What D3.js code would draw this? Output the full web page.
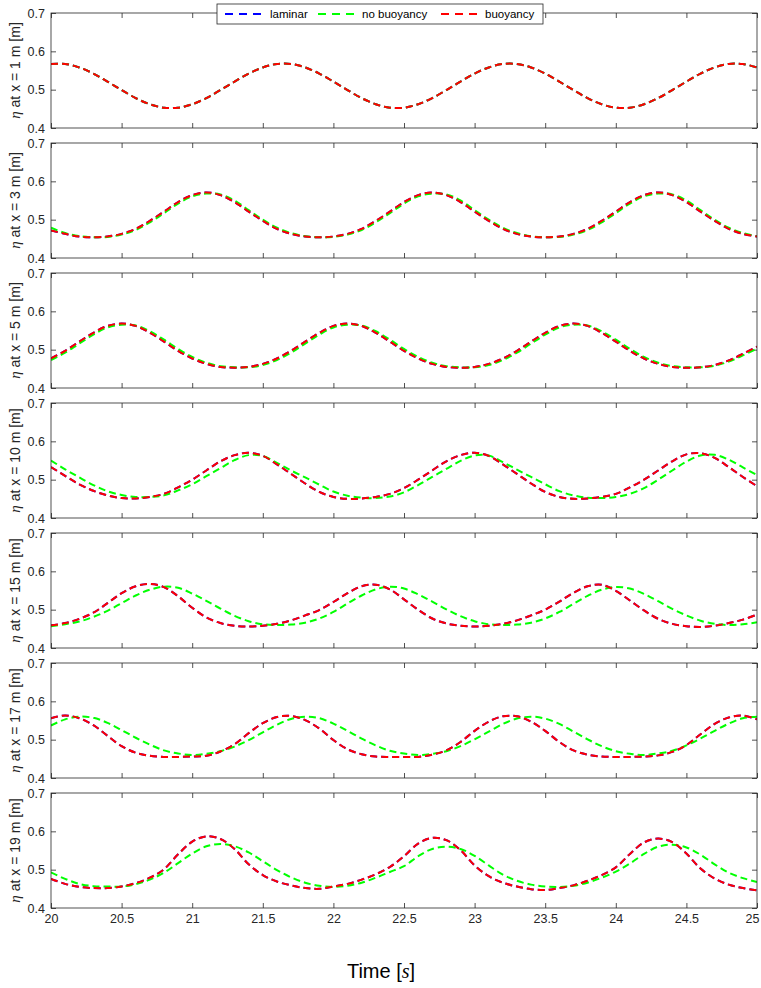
<!DOCTYPE html>
<html><head><meta charset="utf-8">
<script src="https://cdn.jsdelivr.net/npm/d3@7/dist/d3.min.js"></script>
<style>body{margin:0;background:#fff;} svg{display:block;}</style>
</head><body><svg id="c" width="761" height="988"></svg>
<script>
// ---------- data ----------
const time = [20.0,20.1,20.2,20.3,20.4,20.5,20.6,20.7,20.8,20.9,
  21.0,21.1,21.2,21.3,21.4,21.5,21.6,21.7,21.8,21.9,
  22.0,22.1,22.2,22.3,22.4,22.5,22.6,22.7,22.8,22.9,
  23.0,23.1,23.2,23.3,23.4,23.5,23.6,23.7,23.8,23.9,
  24.0,24.1,24.2,24.3,24.4,24.5,24.6,24.7,24.8,24.9,25.0];
const xTicks = [20,20.5,21,21.5,22,22.5,23,23.5,24,24.5,25];
const yTicks = [0.4,0.5,0.6,0.7];
const locations = [1,3,5,10,15,17,19];
const seriesNames = ["laminar","no buoyancy","buoyancy"];
const seriesColors = ["#0000ff","#00ff00","#ff0000"];

// x = 1 m
const laminar_x1 = [.567,.567,.558,.542,.521,.499,.478,.462,.453,.453,.462,.478,.499,.521,.542,.558,
 .567,.567,.558,.542,.521,.499,.478,.462,.453,.453,.462,.478,.499,.521,.542,.558,
 .567,.567,.558,.542,.521,.499,.478,.462,.453,.453,.462,.478,.499,.521,.542,.558,.567,.567,.558];
const noBuoyancy_x1 = [.567,.567,.558,.542,.521,.499,.478,.462,.453,.453,.462,.478,.499,.521,.542,.558,
 .567,.567,.558,.542,.521,.499,.478,.462,.453,.453,.462,.478,.499,.521,.542,.558,
 .567,.567,.558,.542,.521,.499,.478,.462,.453,.453,.462,.478,.499,.521,.542,.558,.567,.567,.558];
const buoyancy_x1 = [.567,.567,.558,.542,.521,.499,.478,.462,.453,.453,.462,.478,.499,.521,.542,.558,
 .567,.567,.558,.542,.521,.499,.478,.462,.453,.453,.462,.478,.499,.521,.542,.558,
 .567,.567,.558,.542,.521,.499,.478,.462,.453,.453,.462,.478,.499,.521,.542,.558,.567,.567,.558];

// x = 3 m
const laminar_x3 = [.472,.463,.456,.454,.456,.463,.476,.497,.521,.546,.564,
 .571,.564,.546,.521,.497,.476,.463,.456,.454,.456,.463,.476,.497,.521,.546,.564,
 .571,.564,.546,.521,.497,.476,.463,.456,.454,.456,.463,.476,.497,.521,.546,.564,
 .571,.564,.546,.521,.497,.476,.463,.456];
const noBuoyancy_x3 = [.479,.465,.457,.454,.455,.461,.473,.493,.517,.542,.561,
 .568,.566,.550,.525,.500,.479,.465,.457,.454,.455,.461,.473,.493,.517,.542,.561,
 .568,.566,.550,.525,.500,.479,.465,.457,.454,.455,.461,.473,.493,.517,.542,.561,
 .568,.566,.550,.525,.500,.479,.465,.457];
const buoyancy_x3 = [.472,.463,.456,.454,.456,.463,.476,.497,.521,.546,.564,
 .571,.564,.546,.521,.497,.476,.463,.456,.454,.456,.463,.476,.497,.521,.546,.564,
 .571,.564,.546,.521,.497,.476,.463,.456,.454,.456,.463,.476,.497,.521,.546,.564,
 .571,.564,.546,.521,.497,.476,.463,.456];

// x = 5 m
const laminar_x5 = [.477,.497,.521,.544,.562,
 .568,.562,.544,.521,.497,.477,.463,.455,.453,.455,.463,.477,.497,.521,.544,.562,
 .568,.562,.544,.521,.497,.477,.463,.455,.453,.455,.463,.477,.497,.521,.544,.562,
 .568,.562,.544,.521,.497,.477,.463,.455,.453,.454,.460,.472,.489,.508];
const noBuoyancy_x5 = [.473,.492,.516,.539,.558,
 .565,.563,.548,.526,.502,.481,.466,.457,.454,.454,.460,.473,.492,.516,.539,.558,
 .565,.563,.548,.526,.502,.481,.466,.457,.454,.454,.460,.473,.492,.516,.539,.558,
 .565,.563,.548,.526,.502,.481,.466,.457,.454,.454,.458,.469,.485,.503];
const buoyancy_x5 = [.477,.497,.521,.544,.562,
 .568,.562,.544,.521,.497,.477,.463,.455,.453,.455,.463,.477,.497,.521,.544,.562,
 .568,.562,.544,.521,.497,.477,.463,.455,.453,.455,.463,.477,.497,.521,.544,.562,
 .568,.562,.544,.521,.497,.477,.463,.455,.453,.454,.460,.472,.489,.508];

// x = 10 m
const laminar_x10 = [.533,.510,.488,.471,.459,.452,.451,.455,.463,.480,
 .500,.524,.548,.564,.570,.562,.540,.515,.490,.468,
 .455,.450,.451,.455,.463,.478,.500,.524,.548,.564,
 .570,.562,.540,.515,.490,.468,.455,.450,.451,.455,
 .463,.480,.500,.524,.548,.566,.569,.557,.533,.507,.483];
const noBuoyancy_x10 = [.550,.527,.506,.486,.470,.460,.455,.455,.459,.472,
 .488,.509,.530,.551,.564,.562,.544,.524,.506,.487,
 .469,.458,.453,.452,.456,.467,.486,.507,.528,.549,
 .563,.563,.546,.526,.507,.488,.470,.459,.453,.452,
 .455,.463,.478,.500,.524,.547,.563,.565,.552,.532,.512];
const buoyancy_x10 = [.533,.510,.488,.471,.459,.452,.451,.455,.463,.480,
 .500,.524,.548,.564,.570,.562,.540,.515,.490,.468,
 .455,.450,.451,.455,.463,.478,.500,.524,.548,.564,
 .570,.562,.540,.515,.490,.468,.455,.450,.451,.455,
 .463,.480,.500,.524,.548,.566,.569,.557,.533,.507,.483];

// x = 15 m
const laminar_x15 = [.459,.465,.476,.492,.517,.543,.561,.567,.559,.535,
 .505,.480,.465,.458,.456,.458,.463,.472,.485,.499,
 .520,.543,.561,.565,.553,.527,.500,.477,.464,.458,
 .456,.458,.463,.472,.485,.500,.521,.544,.561,.565,
 .549,.524,.498,.476,.463,.457,.455,.458,.465,.474,.487];
const noBuoyancy_x15 = [.457,.462,.469,.481,.497,.517,.537,.552,.560,.557,
 .542,.523,.503,.484,.470,.462,.460,.461,.466,.477,
 .494,.516,.537,.553,.560,.555,.540,.521,.501,.483,
 .470,.462,.460,.461,.466,.477,.494,.515,.536,.552,
 .559,.555,.541,.522,.502,.485,.471,.463,.460,.462,.467];
const buoyancy_x15 = [.459,.465,.476,.492,.517,.543,.561,.567,.559,.535,
 .505,.480,.465,.458,.456,.458,.463,.472,.485,.499,
 .520,.543,.561,.565,.553,.527,.500,.477,.464,.458,
 .456,.458,.463,.472,.485,.500,.521,.544,.561,.565,
 .549,.524,.498,.476,.463,.457,.455,.458,.465,.474,.487];

// x = 17 m
const laminar_x17 = [.556,.563,.556,.538,.510,.483,.466,.458,.455,.455,
 .456,.458,.469,.488,.517,.543,.559,.562,.551,.529,
 .499,.475,.462,.456,.455,.455,.455,.461,.472,.494,
 .523,.547,.561,.561,.547,.523,.494,.472,.461,.456,
 .455,.455,.456,.459,.468,.486,.514,.541,.558,.563,.553];
const noBuoyancy_x17 = [.537,.553,.560,.557,.544,.525,.505,.487,.472,.464,
 .460,.463,.470,.482,.499,.519,.539,.554,.560,.556,
 .542,.523,.503,.485,.471,.464,.460,.463,.470,.483,
 .501,.521,.541,.555,.560,.555,.541,.521,.501,.483,
 .470,.463,.460,.464,.471,.485,.503,.523,.542,.556,.560];
const buoyancy_x17 = [.556,.563,.556,.538,.510,.483,.466,.458,.455,.455,
 .456,.458,.469,.488,.517,.543,.559,.562,.551,.529,
 .499,.475,.462,.456,.455,.455,.455,.461,.472,.494,
 .523,.547,.561,.561,.547,.523,.494,.472,.461,.456,
 .455,.455,.456,.459,.468,.486,.514,.541,.558,.563,.553];

// x = 19 m
const laminar_x19 = [.476,.463,.455,.452,.452,.456,.465,.479,.501,.540,
 .573,.587,.580,.554,.514,.486,.469,.459,.452,.450,
 .456,.463,.474,.488,.507,.535,.568,.583,.577,.551,
 .511,.483,.466,.456,.449,.447,.452,.459,.471,.486,
 .506,.541,.571,.581,.572,.542,.503,.477,.461,.452,.446];
const noBuoyancy_x19 = [.493,.476,.463,.457,.456,.456,.462,.474,.492,.517,
 .542,.561,.567,.561,.545,.522,.499,.480,.466,.458,
 .455,.458,.466,.479,.494,.509,.535,.554,.560,.554,
 .536,.511,.487,.471,.461,.456,.455,.458,.466,.479,
 .495,.516,.541,.560,.565,.558,.539,.514,.492,.478,.468];
const buoyancy_x19 = [.476,.463,.455,.452,.452,.456,.465,.479,.501,.540,
 .573,.587,.580,.554,.514,.486,.469,.459,.452,.450,
 .456,.463,.474,.488,.507,.535,.568,.583,.577,.551,
 .511,.483,.466,.456,.449,.447,.452,.459,.471,.486,
 .506,.541,.571,.581,.572,.542,.503,.477,.461,.452,.446];

const panelSeries = [
  [laminar_x1, noBuoyancy_x1, buoyancy_x1],
  [laminar_x3, noBuoyancy_x3, buoyancy_x3],
  [laminar_x5, noBuoyancy_x5, buoyancy_x5],
  [laminar_x10, noBuoyancy_x10, buoyancy_x10],
  [laminar_x15, noBuoyancy_x15, buoyancy_x15],
  [laminar_x17, noBuoyancy_x17, buoyancy_x17],
  [laminar_x19, noBuoyancy_x19, buoyancy_x19]
];

// ---------- layout ----------
const svg = d3.select("#c");
const L = 51, R = 757, T0 = 13, PH = 115, STEP = 130;
const axisColor = "#262626";
const sans = "'Liberation Sans', Arial, Helvetica, sans-serif";
const x = d3.scaleLinear().domain([20,25]).range([L,R]);

svg.append("rect").attr("width",761).attr("height",988).attr("fill","#fff");

panelSeries.forEach((series, p) => {
  const top = T0 + p*STEP, bot = top + PH;
  const y = d3.scaleLinear().domain([0.4,0.7]).range([bot, top]);
  const g = svg.append("g");

  const clipId = "clip"+p;
  g.append("clipPath").attr("id",clipId).append("rect")
    .attr("x",L).attr("y",top).attr("width",R-L).attr("height",PH);

  const styleAxis = sel => {
    sel.select(".domain").remove();
    sel.selectAll("line").attr("stroke",axisColor).attr("stroke-width",0.8);
    sel.selectAll("text").attr("fill",axisColor).attr("font-family",sans).attr("font-size",12.5);
  };
  g.append("g").attr("transform",`translate(${L},0)`)
    .call(d3.axisLeft(y).tickValues(yTicks).tickSize(-5).tickPadding(6).tickFormat(d3.format(".1f")))
    .call(styleAxis);
  g.append("g").attr("transform",`translate(${R},0)`)
    .call(d3.axisRight(y).tickValues(yTicks).tickSize(-5).tickFormat(""))
    .call(styleAxis);
  g.append("g").attr("transform",`translate(0,${top})`)
    .call(d3.axisTop(x).tickValues(xTicks).tickSize(-5).tickFormat(""))
    .call(styleAxis);
  const bx = g.append("g").attr("transform",`translate(0,${bot})`)
    .call(d3.axisBottom(x).tickValues(xTicks).tickSize(-5).tickPadding(6)
      .tickFormat(p === panelSeries.length-1 ? d3.format("") : ""))
    .call(styleAxis);
  // keep the last tick label inside the page
  bx.selectAll("text").filter(d => d === 25).attr("text-anchor","end").attr("dx","2");

  const line = d3.line().x((d,i)=>x(time[i])).y(d=>y(d)).curve(d3.curveCatmullRom.alpha(0.5));
  const lg = g.append("g").attr("clip-path",`url(#${clipId})`);
  series.forEach((vals, s) => {
    lg.append("path").datum(vals).attr("d",line)
      .attr("fill","none").attr("stroke",seriesColors[s])
      .attr("stroke-width",2).attr("stroke-dasharray","7,4");
  });

  g.append("rect").attr("x",L).attr("y",top).attr("width",R-L).attr("height",PH)
    .attr("fill","none").attr("stroke",axisColor).attr("stroke-width",0.8);

  const lab = g.append("text")
    .attr("transform",`translate(15,${(top+bot)/2}) rotate(-90)`)
    .attr("text-anchor","middle").attr("dominant-baseline","central")
    .attr("fill",axisColor).attr("font-family",sans).attr("font-size",14);
  lab.append("tspan").attr("font-family","'Liberation Serif','DejaVu Serif',serif")
    .attr("font-style","italic").attr("font-size",15).text("η");
  lab.append("tspan").text(` at x = ${locations[p]} m [m]`);
});

const xl = svg.append("text").attr("x",381).attr("y",978).attr("text-anchor","middle")
  .attr("fill","#000").attr("font-family",sans).attr("font-size",20);
xl.append("tspan").text("Time [");
xl.append("tspan").attr("font-family","'Liberation Serif','DejaVu Serif',serif")
  .attr("font-style","italic").text("s");
xl.append("tspan").text("]");

const leg = svg.append("g");
leg.append("rect").attr("x",217).attr("y",4).attr("width",326).attr("height",20)
  .attr("fill","#fff").attr("stroke",axisColor).attr("stroke-width",0.8);
const legItems = [
  {x1:225, x2:267, tx:270},
  {x1:318, x2:357, tx:362},
  {x1:441, x2:480, tx:485}
];
legItems.forEach((it, s) => {
  leg.append("line").attr("x1",it.x1).attr("x2",it.x2).attr("y1",14).attr("y2",14)
    .attr("stroke",seriesColors[s]).attr("stroke-width",2).attr("stroke-dasharray","8,6");
  leg.append("text").attr("x",it.tx).attr("y",18).attr("fill","#000")
    .attr("font-family",sans).attr("font-size",11.5).text(seriesNames[s]);
});
</script></body></html>
